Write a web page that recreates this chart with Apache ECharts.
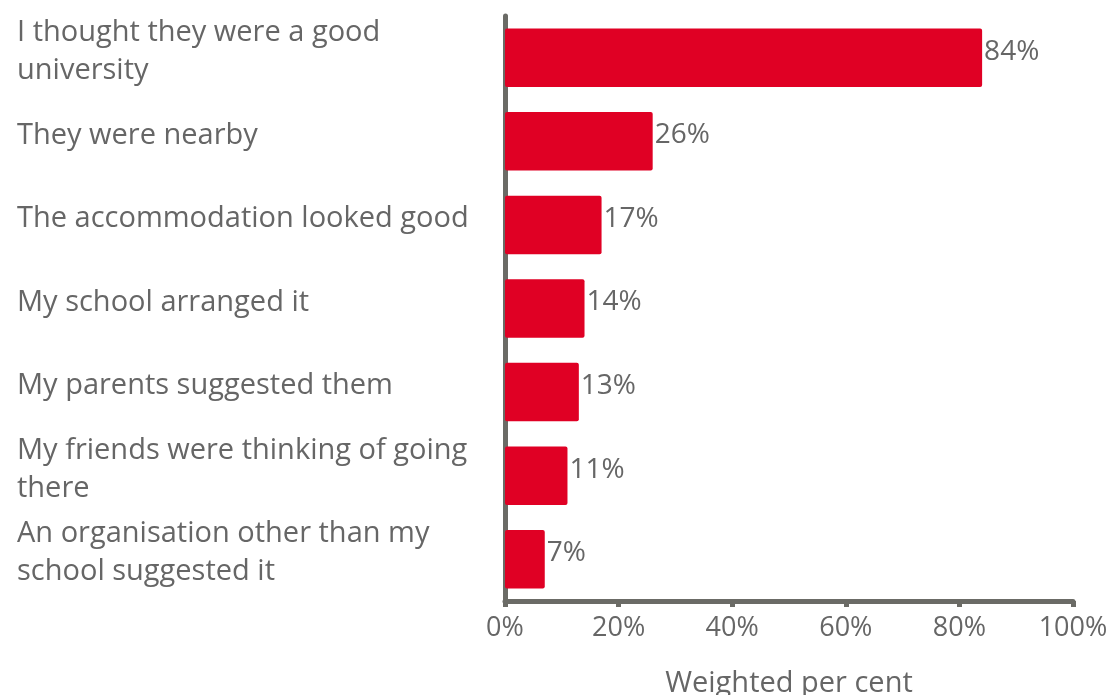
<!DOCTYPE html>
<html>
<head>
<meta charset="utf-8">
<script src="https://cdn.jsdelivr.net/npm/echarts@6/dist/echarts.min.js"></script>
<style>
  html, body { margin: 0; padding: 0; background: #ffffff; }
  #chart { width: 1114px; height: 695px; }
</style>
</head>
<body>
<div id="chart"></div>
<script>
// Reasons for choosing a university (weighted per cent)
const categories = [
  'I thought they were a good\nuniversity',
  'They were nearby',
  'The accommodation looked good',
  'My school arranged it',
  'My parents suggested them',
  'My friends were thinking of going\nthere',
  'An organisation other than my\nschool suggested it'
];
const values = [84, 26, 17, 14, 13, 11, 7];
const xTicks = [0, 20, 40, 60, 80, 100];

const textColor = '#666666';
const axisColor = '#6b6b66';
const font = '"Open Sans", Lato, sans-serif';

const chart = echarts.init(document.getElementById('chart'));
chart.setOption({
  animation: false,
  grid: [
    // plotting area
    { left: 505, top: 16, width: 568, height: 585, containLabel: false, outerBoundsMode: 'none' },
    // category text column, sitting a little higher than the bar centres
    { left: 505, top: 10, width: 568, height: 585, containLabel: false, outerBoundsMode: 'none' }
  ],
  xAxis: [{
    type: 'value',
    gridIndex: 0,
    min: xTicks[0],
    max: xTicks[xTicks.length - 1],
    interval: 20,
    name: 'Weighted per cent',
    nameLocation: 'middle',
    nameGap: 68,
    nameTextStyle: { color: textColor, fontSize: 29, fontFamily: font },
    axisLine: { show: true, lineStyle: { color: axisColor, width: 5 } },
    axisTick: { show: true, length: 6, lineStyle: { color: axisColor, width: 5 } },
    splitLine: { show: false },
    axisLabel: {
      color: textColor, fontSize: 27, fontFamily: font, margin: 14,
      formatter: v => v + '%'
    }
  }, {
    type: 'value',
    gridIndex: 1,
    min: xTicks[0],
    max: xTicks[xTicks.length - 1],
    show: false
  }],
  yAxis: [{
    type: 'category',
    gridIndex: 0,
    data: categories,
    inverse: true,
    axisLine: { show: true, lineStyle: { color: axisColor, width: 5 } },
    axisTick: { show: false },
    axisLabel: { show: false }
  }, {
    type: 'category',
    gridIndex: 1,
    data: categories,
    inverse: true,
    axisLine: { show: false },
    axisTick: { show: false },
    splitLine: { show: false },
    axisLabel: {
      interval: 0,
      color: textColor, fontSize: 29, fontFamily: font,
      align: 'left', margin: 488, lineHeight: 38
    }
  }],
  series: [{
    type: 'bar',
    xAxisIndex: 0,
    yAxisIndex: 0,
    data: values,
    barCategoryGap: '30%',
    itemStyle: { color: '#e00024', borderRadius: 2 },
    label: {
      show: true, position: 'right', distance: 2, offset: [0, -6],
      color: textColor, fontSize: 28, fontFamily: font,
      formatter: p => p.value + '%'
    }
  }]
});
</script>
</body>
</html>
